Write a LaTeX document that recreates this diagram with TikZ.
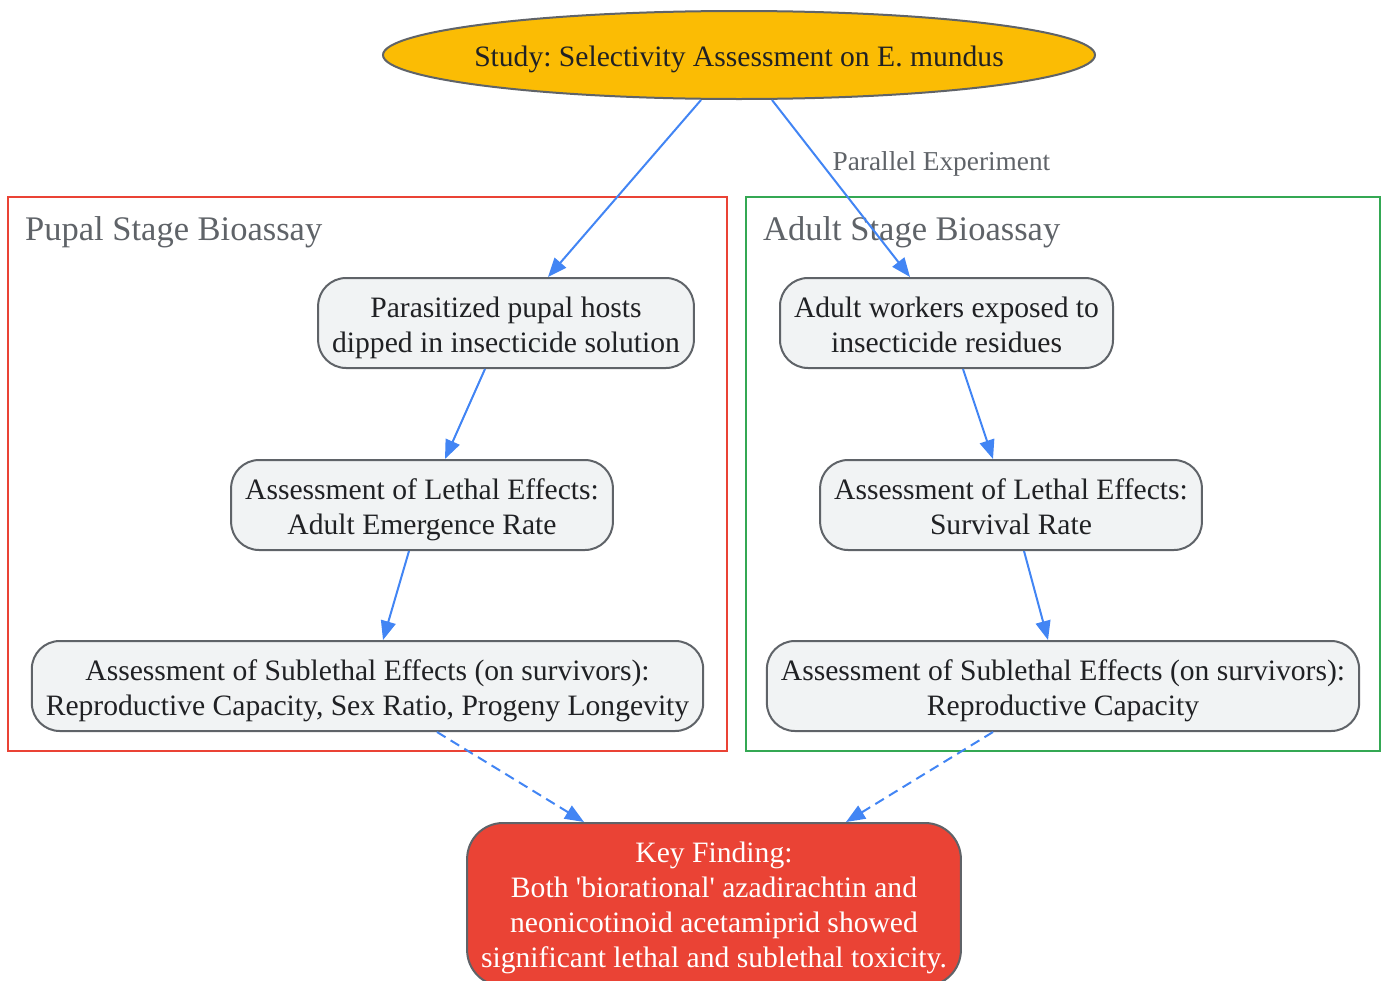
\documentclass[tikz,border=0pt]{standalone}
\usepackage{fontspec}
\setmainfont{Liberation Serif}
\usetikzlibrary{shapes.geometric, arrows.meta, positioning}

\definecolor{gblue}{HTML}{4285F4}
\definecolor{gred}{HTML}{EA4335}
\definecolor{ggreen}{HTML}{34A853}
\definecolor{gyellow}{HTML}{FBBC04}
\definecolor{ggray}{HTML}{5F6368}
\definecolor{gfill}{HTML}{F1F3F4}
\definecolor{gtext}{HTML}{202124}

\newcommand{\tallstrut}[1][30pt]{\rule{0pt}{#1}}
\frenchspacing
\begin{document}
\begin{tikzpicture}[x=1pt, y=-1pt,
    box/.style={draw=ggray, line width=2pt, fill=gfill, rounded corners=28pt,
        align=center, text=gtext, inner xsep=14pt, minimum height=90pt,
        font=\fontsize{29.6}{35}\selectfont, execute at end node=\vphantom{Ag}},
    cluster/.style={line width=2pt, inner sep=0pt},
    ctitle/.style={anchor=west, text=ggray, inner sep=0pt,
        font=\fontsize{34.5}{41}\selectfont},
    flow/.style={-{Triangle[length=19pt, width=15pt]}, line width=2pt, gblue},
    result/.style={flow, dash pattern=on 10pt off 6pt}]
    \useasboundingbox (0,0) rectangle (1384,980);

    % clusters
    \node[cluster, draw=gred, minimum width=719pt, minimum height=554pt] (pupal) at (367.5,474) {};
    \node[cluster, draw=ggreen, minimum width=634pt, minimum height=554pt] (adult) at (1063,474) {};
    \node[ctitle] (pupalT) at (25,232) {Pupal Stage Bioassay};
    \node[ctitle] (adultT) at (763,232) {Adult Stage Bioassay};

    % nodes
    \node[ellipse, draw=ggray, line width=2pt, fill=gyellow, text=gtext, inner sep=0pt,
        minimum width=712pt, minimum height=88pt, font=\fontsize{29.6}{35}\selectfont]
        (study) at (739,55) {\makebox[480pt]{\tallstrut[29.5pt]Study: Selectivity Assessment on E. mundus}};
    \node[box] (P1) at (506,323) {\tallstrut Parasitized pupal hosts\\dipped in insecticide solution};
    \node[box] (P2) at (422,505) {\tallstrut Assessment of Lethal Effects:\\Adult Emergence Rate};
    \node[box] (P3) at (367.5,686) {\tallstrut Assessment of Sublethal Effects (on survivors):\\Reproductive Capacity, Sex Ratio, Progeny Longevity};
    \node[box] (A1) at (946.5,323) {\tallstrut Adult workers exposed to\\insecticide residues};
    \node[box] (A2) at (1011,505) {\tallstrut Assessment of Lethal Effects:\\Survival Rate};
    \node[box] (A3) at (1063,686) {\tallstrut Assessment of Sublethal Effects (on survivors):\\Reproductive Capacity};
    \node[box, draw=ggray, fill=gred, text=white, rounded corners=36pt,
        minimum width=492pt, minimum height=163pt] (key) at (714,904.5)
        {\tallstrut[26.5pt]Key Finding:\\Both \textquotesingle biorational\textquotesingle{} azadirachtin and\\neonicotinoid acetamiprid showed\\significant lethal and sublethal toxicity.};

    % edges
    \draw[flow] ([xshift=-38pt]study.south) to ([xshift=42pt]P1.north);
    \draw[flow] ([xshift=33pt]study.south) to node[pos=0.36, anchor=west, inner sep=10pt,
        text=ggray, font=\fontsize{27.3}{32}\selectfont] {Parallel Experiment} ([xshift=-36.5pt]A1.north);
    \draw[flow] ([xshift=-21pt]P1.south) to ([xshift=23pt]P2.north);
    \draw[flow] ([xshift=-13pt]P2.south) to ([xshift=15.5pt]P3.north);
    \draw[flow] ([xshift=16.5pt]A1.south) to ([xshift=-18pt]A2.north);
    \draw[flow] ([xshift=13pt]A2.south) to ([xshift=-15pt]A3.north);
    \draw[result] ([xshift=69.5pt]P3.south) to ([xshift=-130pt]key.north);
    \draw[result] ([xshift=-70pt]A3.south) to ([xshift=132pt]key.north);
\end{tikzpicture}
\end{document}
